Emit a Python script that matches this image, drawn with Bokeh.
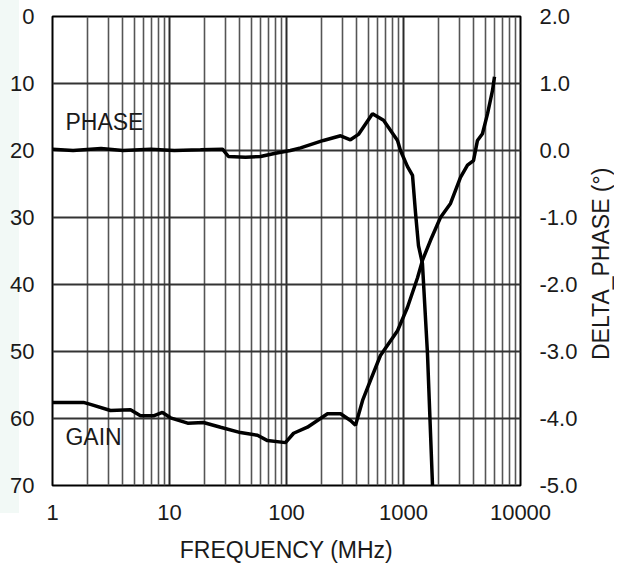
from bokeh.plotting import figure
from bokeh.models import Range1d, LinearAxis, FixedTicker, PrintfTickFormatter, Div
from bokeh.layouts import row
from bokeh.embed import file_html
from bokeh.resources import INLINE
from bokeh.core.properties import value

# ---- data ----
phase_freq = [1, 1.5, 2.6, 4.0, 6.9, 11, 18.4, 28.4, 31.9, 44.6, 60, 80.5, 108,
              132, 207, 290, 352, 412, 543, 675, 889, 942, 1082, 1194, 1267,
              1343, 1452, 1603, 1770]
phase_deg = [0.02, 0.0, 0.03, 0.0, 0.02, 0.0, 0.01, 0.02, -0.09, -0.10, -0.09,
             -0.04, 0.0, 0.04, 0.15, 0.22, 0.16, 0.24, 0.55, 0.45, 0.15, 0.0,
             -0.24, -0.37, -0.93, -1.42, -1.69, -3.03, -5.0]

gain_freq = [1, 1.84, 2.11, 3.13, 4.64, 5.65, 7.3, 8.7, 10.2, 14.3, 19.5, 27.3,
             40.4, 56.5, 68.8, 98, 115, 151, 224, 290, 352, 389, 447, 522, 635,
             889, 1082, 1318, 1452, 1702, 2070, 2523, 3070, 3524, 3965, 4288,
             4730, 5228, 5770, 5995]
gain_db = [57.6, 57.6, 57.9, 58.8, 58.7, 59.6, 59.6, 59.1, 59.9, 60.7, 60.6,
           61.3, 62.1, 62.5, 63.3, 63.6, 62.2, 61.3, 59.3, 59.3, 60.3, 61.0,
           57.3, 54.3, 50.6, 46.9, 43.4, 39.0, 36.4, 33.4, 30.0, 27.9, 24.0,
           22.2, 21.5, 18.5, 17.5, 14.5, 11.0, 9.0]

x_ticks = [1, 10, 100, 1000, 10000]
x_minor = [m * d for d in (1, 10, 100, 1000) for m in range(2, 10)]
left_ticks = [0, 10, 20, 30, 40, 50, 60, 70]
right_ticks = [-5, -4, -3, -2, -1, 0, 1, 2]
right_title = "DELTA_PHASE (°)"

FONT = "Liberation Sans"

p = figure(frame_width=468, frame_height=469, x_axis_type="log",
           x_range=Range1d(1, 10000), y_range=Range1d(70, 0),
           output_backend="svg", toolbar_location=None,
           min_border_left=52, min_border_right=66,
           min_border_top=16, min_border_bottom=81)
p.border_fill_color = None
p.background_fill_color = "white"
p.styles = {"background": "linear-gradient(#f2f9f6, #f2f9f6) 0 0 / 19px 513px no-repeat, white"}
p.outline_line_color = "black"
p.outline_line_width = 2

p.extra_y_ranges = {"phase": Range1d(-5, 2)}

# x axis
xa = p.xaxis[0]
xa.ticker = FixedTicker(ticks=x_ticks, minor_ticks=x_minor)
xa.formatter = PrintfTickFormatter(format="%d")
xa.axis_label = "FREQUENCY (MHz)"
xa.major_label_standoff = 13
xa.axis_label_standoff = 14

# left axis
ya = p.yaxis[0]
ya.ticker = FixedTicker(ticks=left_ticks)
ya.major_label_standoff = 12

# right axis
ra = LinearAxis(y_range_name="phase", ticker=FixedTicker(ticks=right_ticks),
                formatter=PrintfTickFormatter(format="%.1f"))
ra.major_label_standoff = 13
p.add_layout(ra, "right")

for ax in (xa, ya, ra):
    ax.axis_line_color = None
    ax.major_tick_line_color = None
    ax.minor_tick_line_color = None
    ax.major_label_text_font = FONT
    ax.major_label_text_font_size = "22px"
    ax.major_label_text_color = "#1a1a1a"
    ax.axis_label_text_font = FONT
    ax.axis_label_text_font_size = "23px"
    ax.axis_label_text_font_style = "normal"
    ax.axis_label_text_color = "#1a1a1a"

# grid
p.xgrid.grid_line_color = "#2a2a2a"
p.xgrid.grid_line_width = 2
p.xgrid.minor_grid_line_color = "#555555"
p.xgrid.minor_grid_line_width = 1.6
p.ygrid.grid_line_color = "#333333"
p.ygrid.grid_line_width = 1.8

# curves
p.line(gain_freq, gain_db, line_color="black", line_width=3.5)
p.line(phase_freq, phase_deg, y_range_name="phase", line_color="black", line_width=3.5)

p.text(x=[1.29], y=[15.8], text=["PHASE"], text_font=value(FONT),
       text_font_size="23px", text_baseline="middle", text_align="left",
       text_color="#1a1a1a")
p.text(x=[1.29], y=[62.8], text=["GAIN"], text_font=value(FONT),
       text_font_size="23px", text_baseline="middle", text_align="left",
       text_color="#1a1a1a")

# right-hand title, reading bottom to top
title_div = Div(
    text=('<div style="margin-top:170px; margin-left:2px; width:26px; height:190px; '
          'writing-mode:vertical-rl; transform:rotate(180deg); text-align:center; '
          "font-family:'Liberation Sans'; font-size:23px; line-height:26px; "
          'color:#1a1a1a; white-space:nowrap;">' + right_title + '</div>'),
    width=40, height=566, margin=0,
    styles={"background": "white"})

layout = row(p, title_div)
layout.margin = 0

open("out.html", "w").write(file_html(layout, INLINE))
